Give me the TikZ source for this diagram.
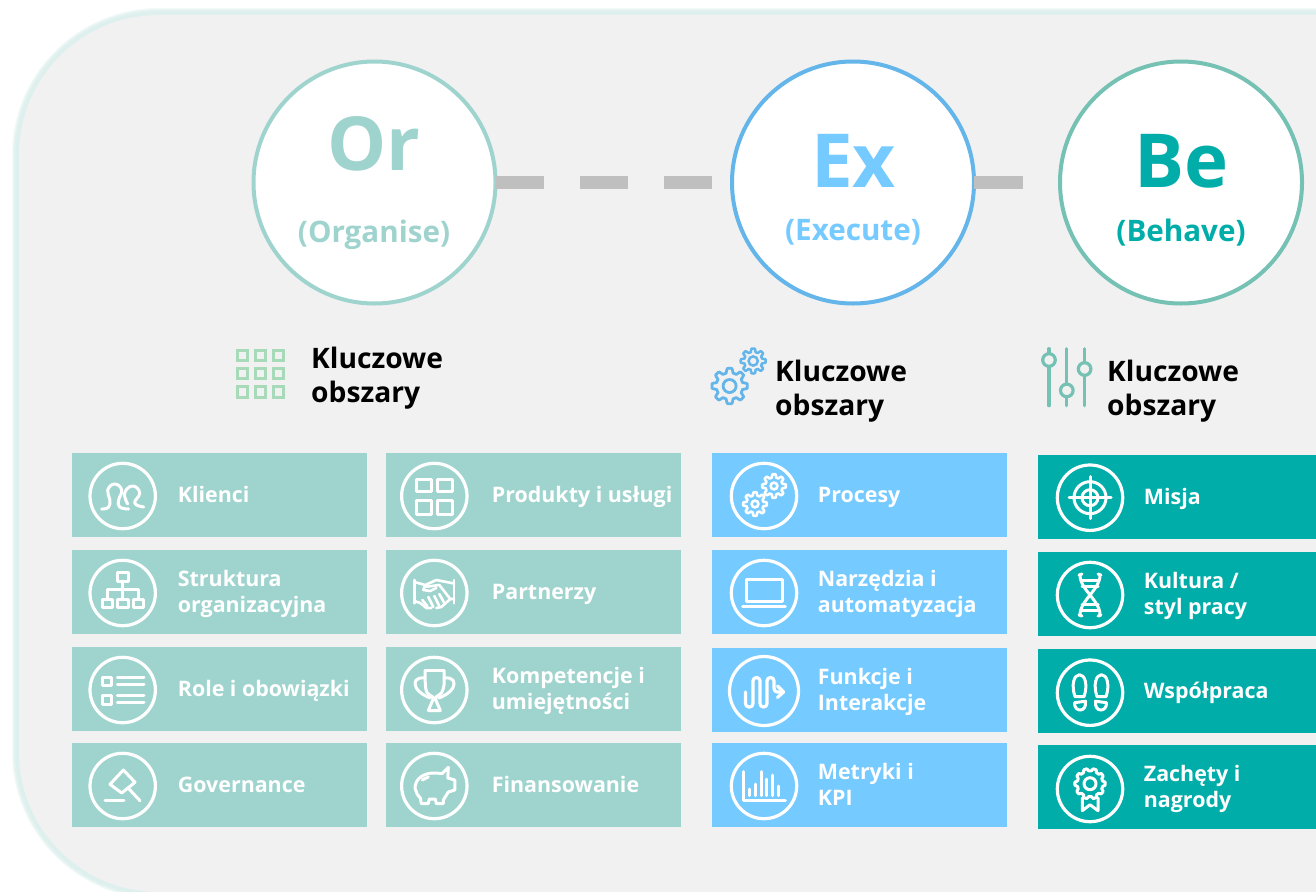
\documentclass[tikz,border=0pt]{standalone}
\usepackage{fontspec}
\setmainfont{Open Sans}
\definecolor{panel}{HTML}{F1F1F1}
\definecolor{orc}{HTML}{9FD4CE}
\definecolor{exc}{HTML}{75CAFF}
\definecolor{bec}{HTML}{00ADA9}
\definecolor{orring}{HTML}{9FD4CE}
\definecolor{exring}{HTML}{64B5EA}
\definecolor{bering}{HTML}{75C2B4}
\definecolor{dashc}{HTML}{BFBFBF}
\definecolor{gridc}{HTML}{A6DAB8}
\tikzset{
  bigring/.style={circle,draw=#1,line width=4pt,fill=white,minimum size=242pt,inner sep=0pt,outer sep=0pt},
  dashline/.style={draw=dashc,line width=12.5pt,dash pattern=on 48.5pt off 35.5pt},
  lastdash/.style={draw=dashc,line width=12.5pt,dash pattern=on 48.5pt off 200pt},
  bigtext/.style={font=\bfseries\fontsize{74.5}{80}\selectfont,inner sep=0pt,text=#1},
  subtext/.style={font=\bfseries\fontsize{29.6}{32}\selectfont,inner sep=0pt,text=#1},
  headtext/.style={font=\bfseries\fontsize{28.2}{34}\selectfont,inner sep=0pt,anchor=west,align=left,text=black},
  itembox/.style={rectangle,fill=#1,draw=none,inner sep=0pt,outer sep=0pt,anchor=north west},
  itemtext/.style={font=\bfseries\fontsize{21.4}{26}\selectfont,inner sep=0pt,anchor=west,align=left,text=white},
  ic/.style={draw=white,line width=3pt,line join=round,line cap=round},
  ring/.style={draw=white,line width=3.2pt},
}
% name, x, y, width, colour, text
\newcommand{\itembx}[6]{%
  \node[itembox=#5,minimum width=#4pt,minimum height=84pt] (#1) at (#2,#3) {};
  \node[itemtext] (#1t) at ($(#1.west)+(105.7,2.4)$) {\strut #6\strut};
}
\newcommand{\icn}[3]{%
  \begin{scope}[shift={(#1,#2)}]
    \draw[ring] (0,0) circle[radius=32.7];
    #3
  \end{scope}
}
% cx cy R a n
\newcommand{\gearshape}[5]{%
  plot[domain=0:360,samples=145] ({#1+(#3+#4*max(-1,min(1,2*cos(#5*\x)))*1)*cos(\x)},{#2+(#3+#4*max(-1,min(1,2*cos(#5*\x)))*1)*sin(\x)}) -- cycle
}
\newcommand{\shoeshape}{%
  \draw[ic] (-15,4) .. controls (-19,-8) and (-16,-18) .. (-10.5,-18) .. controls (-5,-18) and (-2,-8) .. (-6,4) -- cycle;
  \draw[ic] (-15.5,10) -- (-4.5,8.5) .. controls (-3,20) and (-16,20) .. (-15.5,10) -- cycle;
}
\usetikzlibrary{calc}
\begin{document}
\begin{tikzpicture}[x=1pt,y=-1pt]
\useasboundingbox (0,0) rectangle (1316,891);
\clip (0,0) rectangle (1316,891);
\fill[white] (0,0) rectangle (1316,891);
% panel with soft glow
\foreach \w/\c in {14/F3FAF9,12/EAF6F4,10/E3F2F0,7/DEF0EE}{
  \definecolor{glowc}{HTML}{\c}
  \draw[glowc,line width=\w pt,rounded corners=140pt] (19,15) rectangle (1500,892);
}
\fill[panel,rounded corners=140pt] (19,15) rectangle (1500,892);

% big circles
\node[bigring=orring] (or) at (374.5,182.5) {};
\node[bigring=exring] (ex) at (853,182.5) {};
\node[bigring=bering] (be) at (1181,182.5) {};
\draw[dashline] (or) -- (ex);
\draw[lastdash] (ex) -- (be);
\node[bigtext=orc] (ort) at (374,143.5) {Or};
\node[subtext=orc] (ors) at (374,234.5) {(Organise)};
\node[bigtext=exc] (ext) at (853.5,161) {Ex};
\node[subtext=exc] (exs) at (853,232) {(Execute)};
\node[bigtext=bec] (bet) at (1181.5,161) {Be};
\node[subtext=bec] (bes) at (1181,233) {(Behave)};

% headers
\node[headtext] (h1) at (311,378.5) {\strut Kluczowe\\obszary\strut};
\node[headtext] (h2) at (775,391.5) {\strut Kluczowe\\obszary\strut};
\node[headtext] (h3) at (1107,391.5) {\strut Kluczowe\\obszary\strut};

% header icons
\foreach \xa in {237.8,255.6,273.6}{
  \foreach \ya in {350,368,386.5}{
    \draw[draw=gridc,line width=3pt] (\xa,\ya) rectangle ++(10,10.5);
  }
}
\draw[exring,line width=2.8pt,line join=round] \gearshape{729.6}{386}{15.5}{2.2}{8};
\draw[exring,line width=2.8pt] (729.6,386) circle[radius=6.5];
\draw[exring,line width=2.5pt,line join=round] \gearshape{753.2}{361}{10.8}{1.7}{8};
\draw[exring,line width=2.5pt] (753.2,361) circle[radius=4.6];
\foreach \xa/\ya in {1049/360,1066.8/390.4,1084.6/369}{
  \draw[bering,line width=3.2pt,line cap=round] (\xa,348.6) -- (\xa,405.7);
  \draw[bering,line width=3.2pt,fill=panel] (\xa,\ya) circle[radius=6.3];
}

% column 1
\itembx{a1}{72}{453}{295}{orc}{Klienci}
\itembx{a2}{72}{550}{295}{orc}{Struktura\\organizacyjna}
\itembx{a3}{72}{647}{295}{orc}{Role i obowiązki}
\itembx{a4}{72}{743}{295}{orc}{Governance}
% column 2
\itembx{b1}{386}{453}{295}{orc}{Produkty i usługi}
\itembx{b2}{386}{550}{295}{orc}{Partnerzy}
\itembx{b3}{386}{647}{295}{orc}{Kompetencje i\\umiejętności}
\itembx{b4}{386}{743}{295}{orc}{Finansowanie}
% column 3
\itembx{c1}{712}{453}{295}{exc}{Procesy}
\itembx{c2}{712}{550}{295}{exc}{Narzędzia i\\automatyzacja}
\itembx{c3}{712}{648}{295}{exc}{Funkcje i\\Interakcje}
\itembx{c4}{712}{743}{295}{exc}{Metryki i\\KPI}
% column 4
\itembx{d1}{1038}{455}{278}{bec}{Misja}
\itembx{d2}{1038}{552}{278}{bec}{Kultura /\\styl pracy}
\itembx{d3}{1038}{649}{278}{bec}{Współpraca}
\itembx{d4}{1038}{745}{278}{bec}{Zachęty i\\nagrody}

% icons column 1
\icn{122.7}{496}{
  \draw[ic] plot[smooth,tension=.8] coordinates {(-21,13) (-14,11) (-13,3) (-15,-6) (-8,-12) (-1,-6) (-4,4) (-3,11) (6,13)};
  \draw[ic] plot[smooth,tension=.8] coordinates {(5,8) (2,-3) (10,-10) (17,-3) (12,7) (21,11)};
}
\icn{122.7}{593}{
  \draw[ic] (-5.3,-21) rectangle (5.7,-12);
  \draw[ic] (0,-12) -- (0,6);
  \draw[ic] (-15,6) -- (-15,-4) -- (15.5,-4) -- (15.5,6);
  \draw[ic] (-20,6) rectangle (-10,14);
  \draw[ic] (-5,6) rectangle (5.5,14);
  \draw[ic] (10.5,6) rectangle (20.5,14);
}
\icn{122.7}{690}{
  \draw[ic] (-20,-13) rectangle (-11,-4.3);
  \draw[ic] (-20,5) rectangle (-11,14);
  \foreach \ya in {-12.7,-5.7,5.7,12.7}{\draw[ic] (-5.3,\ya) -- (21.3,\ya);}
}
\icn{122.7}{786}{
  \draw[ic] (-12.7,-1.7) -- (0.7,-16) -- (12.3,-3.7) -- (-1,7) -- cycle;
  \draw[ic] (5.7,2.3) -- (17.3,14.7);
  \draw[ic] (-17.7,14.7) -- (1.3,14.7);
}
% icons column 2
\icn{434.3}{496}{
  \draw[ic] (-17.7,-16.7) rectangle (-2.7,-4.3);
  \draw[ic] (3,-16.7) rectangle (18.3,-4.3);
  \draw[ic] (-17.7,4.7) rectangle (-2.7,18);
  \draw[ic] (3,4.7) rectangle (18.3,18);
}
\icn{434.3}{593}{
  \draw[ic,line width=2.6pt] (-20,-13) -- (-20,10.3);
  \draw[ic,line width=2.6pt] (19.7,-13) -- (19.7,10.3);
  \draw[ic,line width=2.6pt] (-20,-11) -- (-9,-8) -- (2,-13) -- (19.7,-9.5);
  \draw[ic,line width=2.6pt] (-11,-3) -- (-10,-6) -- (5,-8) -- (16,6);
  \draw[ic,line width=2.6pt] (-11,-3) -- (-4,-2) -- (2,-5);
  \draw[ic,line width=2.6pt] (-20,8) -- (-14,10) -- (-8,15) -- (-3,15);
  \draw[ic,line width=2.6pt] (2,15) -- (7,14) -- (16,6) -- (19.7,6);
  \draw[ic,line width=2.6pt] (-12,7) -- (-7,13);
  \draw[ic,line width=2.6pt] (-6,4) -- (-1,14);
  \draw[ic,line width=2.6pt] (0,3) -- (5,13);
  \draw[ic,line width=2.6pt] (5,1) -- (10,10);
}
\icn{434.3}{690}{
  \draw[ic] (-9.3,-19.3) -- (9.7,-19.3);
  \draw[ic] (-9.3,-19.3) -- (-9,-5) .. controls (-8,3) .. (-1.5,7) -- (-1.5,10) -- (-6,20.5) -- (6,20.5) -- (1.5,10) -- (1.5,7) .. controls (8,3) .. (9.7,-5) -- (9.7,-19.3);
  \draw[ic] (-9.3,-12) .. controls (-19,-13) and (-21,-8) .. (-18,-2) .. controls (-15,3) and (-9,6) .. (-4.3,8);
  \draw[ic] (9.7,-12) .. controls (19.5,-13) and (21.5,-8) .. (18.5,-2) .. controls (15.5,3) and (9.5,6) .. (4.7,8);
}
\icn{434.3}{786}{
  \draw[ic] (-19.3,2) .. controls (-19,-8) and (-10,-13) .. (0,-13) -- (8,-12.5) -- (14,-18.7) -- (13.5,-8) -- (20.5,-6) -- (20.5,4) -- (14,6) -- (9,14) -- (9,17.5) -- (2,17.5) -- (1,13) -- (-5,13) -- (-6,17.5) -- (-13,17.5) -- (-14,12) .. controls (-17,9) .. (-19.3,2) -- cycle;
  \draw[ic] (-12,-6) -- (-6,-9);
}
% icons column 3
\icn{764}{496}{
  \draw[ic,line width=2.6pt] \gearshape{10}{-10}{10.2}{1.6}{8};
  \draw[ic,line width=2.6pt] (10,-10) circle[radius=3.4];
  \draw[ic,line width=2.6pt] \gearshape{-9}{8}{10.2}{1.6}{8};
  \draw[ic,line width=2.6pt] (-9,8) circle[radius=3.4];
}
\icn{764}{593}{
  \draw[ic] (-18,-14) rectangle (18.7,8.3);
  \draw[ic] (-21.3,13) -- (21.3,13);
}
\begin{scope}[shift={(764,691)}]
  \draw[ring] (0,0) circle[radius=34.5];
  \draw[ic,line width=3.2pt,rounded corners=3.4pt] (-18.5,1) -- (-18.5,16) -- (-11,16) -- (-11,-13.5) -- (-4,-13.5) -- (-4,16) -- (3,16) -- (3,-13.5) -- (10,-13.5) -- (10,1) -- (19,1);
  \draw[ic,line width=3.2pt] (13.5,-5) -- (19.5,1) -- (13.5,6.5);
\end{scope}
\icn{764}{786}{
  \draw[ic] (-20.7,-14.3) -- (-20.7,14.7) -- (21.3,14.7);
  \foreach \xa/\ya in {-14.7/3,-9/-2,-3/-14.3,2.7/-7,8.7/-11,14.3/0}{\draw[ic] (\xa,\ya) -- (\xa,9.7);}
}
% icons column 4
\icn{1090}{497.7}{
  \draw[ic] (0,0) circle[radius=16];
  \draw[ic] (0,0) circle[radius=8];
  \draw[ic] (-21,0) -- (21,0);
  \draw[ic] (0,-21) -- (0,21);
}
\icn{1090}{595}{
  \draw[ic] plot[domain=-20:20,samples=41] ({10*cos(4.5*(\x+20))},\x);
  \draw[ic] plot[domain=-20:20,samples=41] ({-10*cos(4.5*(\x+20))},\x);
  \foreach \ya in {-15,-9,9,15}{\draw[ic] (-8,\ya) -- (8,\ya);}
  \draw[ic] (-11,-20) -- (-8,-21);
  \draw[ic] (11,-20) -- (8,-21);
  \draw[ic] (-11,20) -- (-8,21);
  \draw[ic] (11,20) -- (8,21);
}
\icn{1090}{692.7}{
  \shoeshape
  \begin{scope}[xscale=-1,xshift=-1pt]
    \shoeshape
  \end{scope}
}
\icn{1090}{789}{
  \draw[ic] \gearshape{0}{-5.3}{14}{1.2}{10};
  \draw[ic] (0,-5.3) circle[radius=6];
  \draw[ic] (-7.7,9) -- (-7.7,21.7) -- (0,15.7) -- (8,21.7) -- (8,9);
}
\end{tikzpicture}
\end{document}
